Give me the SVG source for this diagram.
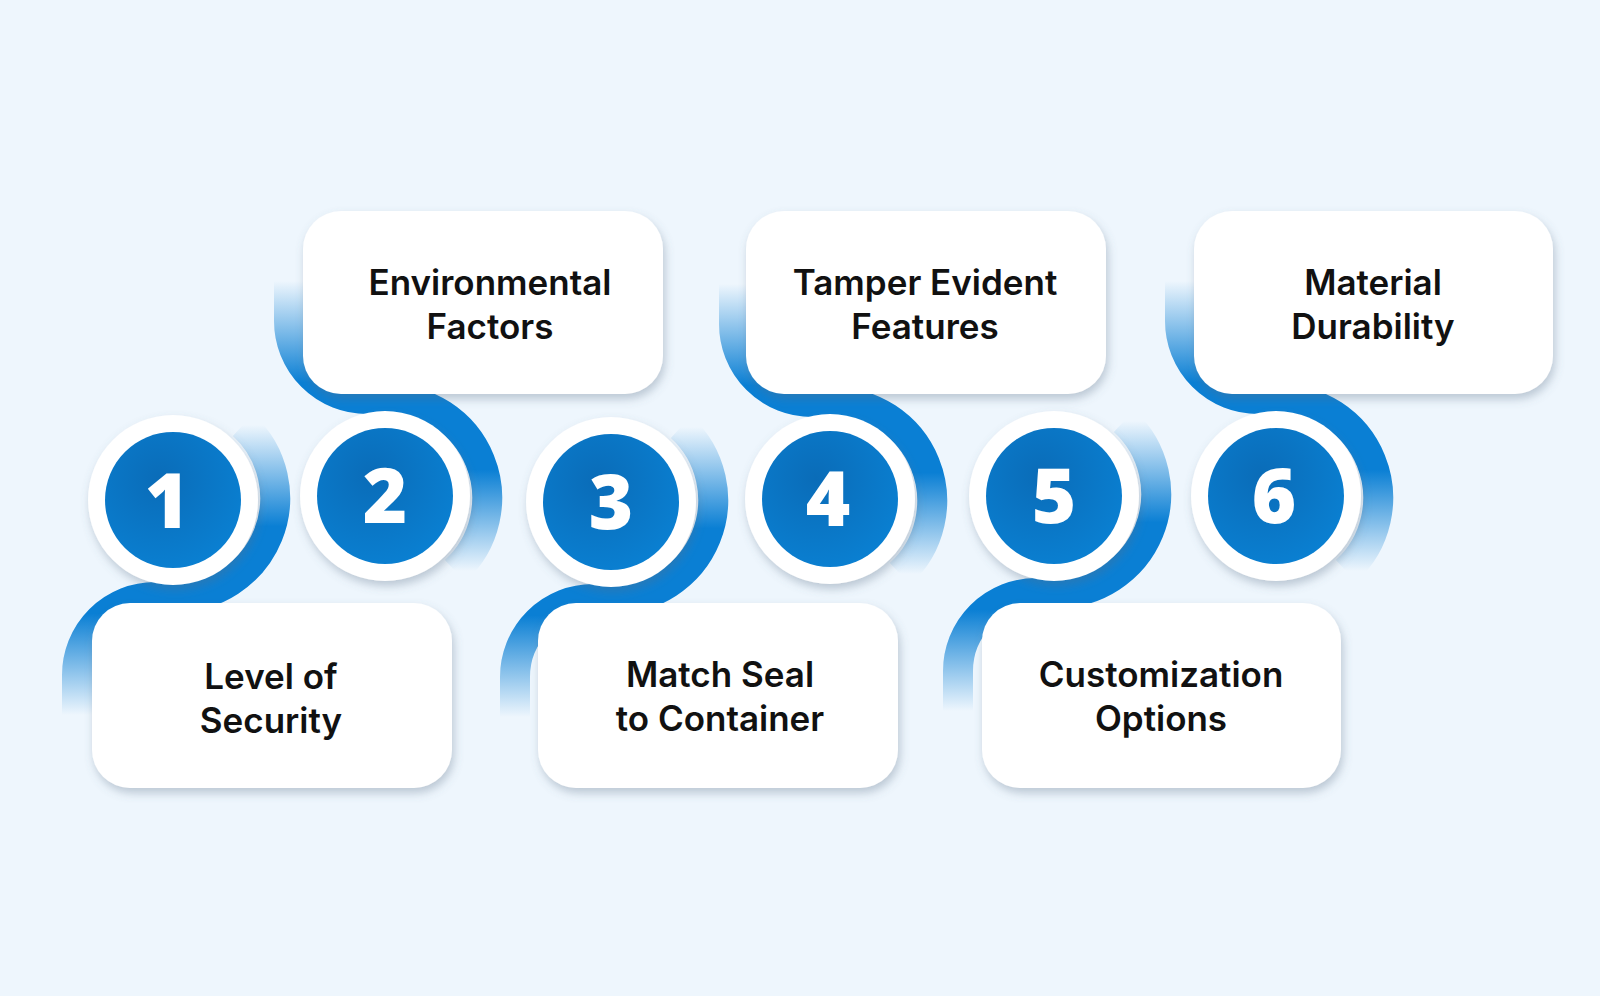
<svg xmlns="http://www.w3.org/2000/svg" width="1600" height="996" viewBox="0 0 1600 996">
<defs>
<style>
.box{fill:#fff;filter:url(#sh)}
.lbl{font-family:Inter,"Noto Sans",sans-serif;font-weight:600;font-size:35px;fill:#111;text-anchor:middle}
.num{font-family:"Open Sans","Noto Sans",sans-serif;font-weight:800;font-size:76px;fill:#fff;text-anchor:middle}
.ring{fill:#fff;filter:url(#sh)}
.core{fill:url(#cg)}
</style>
<filter id="sh" x="-20%" y="-20%" width="140%" height="150%"><feDropShadow dx="2" dy="5" stdDeviation="5" flood-color="#5a6e85" flood-opacity="0.35"/></filter>
<linearGradient id="bg" x1="0" y1="0" x2="0" y2="1">
<stop offset="0" stop-color="#0a7fd4" stop-opacity="0"/>
<stop offset="0.35" stop-color="#0a7fd4"/>
<stop offset="0.65" stop-color="#0a7fd4"/>
<stop offset="1" stop-color="#0a7fd4" stop-opacity="0"/>
</linearGradient>
<radialGradient id="cg" cx="0.4" cy="0.35" r="0.7">
<stop offset="0" stop-color="#0a6cb8"/>
<stop offset="1" stop-color="#0a80d2"/>
</radialGradient>
<path id="band" d="M-96,-215 L-96,-175 A78,78 0 0 0 -18,-97 L0,-97 A99,99 0 0 1 70,75" fill="none" stroke="url(#bg)" stroke-width="30"/>
</defs>
<rect width="1600" height="996" fill="#eef6fd"/>
<g id="connectors">
<use href="#band" transform="translate(173,500) scale(1,-1)"/>
<use href="#band" transform="translate(385,496)"/>
<use href="#band" transform="translate(611,502) scale(1,-1)"/>
<use href="#band" transform="translate(830,499)"/>
<use href="#band" transform="translate(1054,496) scale(1,-1)"/>
<use href="#band" transform="translate(1276,496)"/>
</g>
<g id="box-env"><rect class="box" x="303" y="211" width="360" height="183" rx="38"/><text class="lbl" x="490" y="295">Environmental</text><text class="lbl" x="490" y="339">Factors</text></g>
<g id="box-tamper"><rect class="box" x="746" y="211" width="360" height="183" rx="38"/><text class="lbl" x="925" y="295">Tamper Evident</text><text class="lbl" x="925" y="339">Features</text></g>
<g id="box-material"><rect class="box" x="1194" y="211" width="359" height="183" rx="38"/><text class="lbl" x="1373" y="295">Material</text><text class="lbl" x="1373" y="339">Durability</text></g>
<g id="box-level"><rect class="box" x="92" y="603" width="360" height="185" rx="38"/><text class="lbl" x="271" y="689">Level of</text><text class="lbl" x="271" y="733">Security</text></g>
<g id="box-match"><rect class="box" x="538" y="603" width="360" height="185" rx="38"/><text class="lbl" x="720" y="687">Match Seal</text><text class="lbl" x="720" y="731">to Container</text></g>
<g id="box-custom"><rect class="box" x="982" y="603" width="359" height="185" rx="38"/><text class="lbl" x="1161" y="687">Customization</text><text class="lbl" x="1161" y="731">Options</text></g>
<g id="c1"><circle class="ring" cx="173" cy="500" r="85"/><circle class="core" cx="173" cy="500" r="68"/><text class="num" x="167" y="528">1</text></g>
<g id="c2"><circle class="ring" cx="385" cy="496" r="85"/><circle class="core" cx="385" cy="496" r="68"/><text class="num" x="385" y="523">2</text></g>
<g id="c3"><circle class="ring" cx="611" cy="502" r="85"/><circle class="core" cx="611" cy="502" r="68"/><text class="num" x="611" y="529">3</text></g>
<g id="c4"><circle class="ring" cx="830" cy="499" r="85"/><circle class="core" cx="830" cy="499" r="68"/><text class="num" x="828" y="526">4</text></g>
<g id="c5"><circle class="ring" cx="1054" cy="496" r="85"/><circle class="core" cx="1054" cy="496" r="68"/><text class="num" x="1054" y="523">5</text></g>
<g id="c6"><circle class="ring" cx="1276" cy="496" r="85"/><circle class="core" cx="1276" cy="496" r="68"/><text class="num" x="1274" y="523">6</text></g>
</svg>
